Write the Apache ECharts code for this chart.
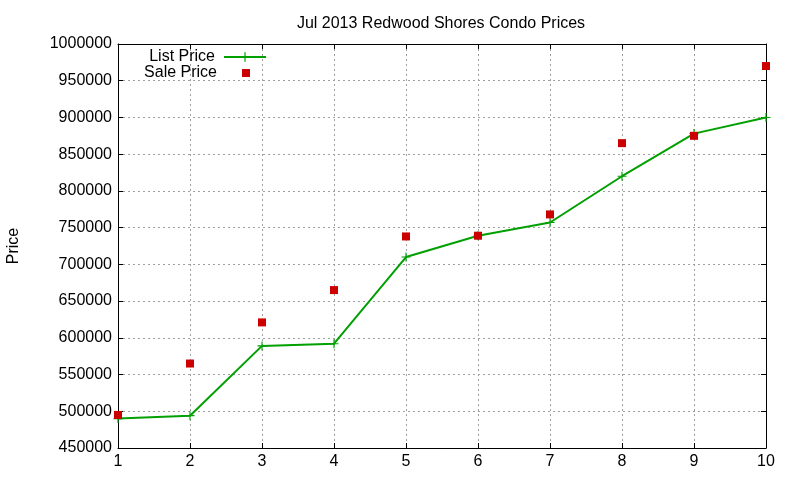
<!DOCTYPE html>
<html>
<head>
    <meta charset="utf-8">
    <title>Redwood Shores Condo Prices</title>
    <script src="https://cdn.jsdelivr.net/npm/echarts@6/dist/echarts.min.js"></script>
</head>
<body style="margin:0">
    <div id="main" style="width: 800px;height:480px;"></div>
    <script type="text/javascript">
        var months = [1, 2, 3, 4, 5, 6, 7, 8, 9, 10];
        var listPrice = [490000, 494000, 589000, 592000, 710000, 739000, 757000, 820000, 878000, 900000];
        var salePrice = [495000, 565000, 621000, 665000, 738000, 739000, 768000, 865000, 875000, 970000];

        var pair = function (xs, ys) {
            var res = [];
            for (var i = 0; i < xs.length; i++) {
                res.push([xs[i], ys[i]]);
            }
            return res;
        };

        var myChart = echarts.init(document.getElementById('main'));
        var font = 'Liberation Sans';
        var plus = 'path://M-1,-8 H1 V-1 H8 V1 H1 V8 H-1 V1 H-8 V-1 H-1 Z';
        var gridLine = { show: true, lineStyle: { color: '#a0a0a0', type: [2, 3], width: 1 } };
        var tick = { show: true, inside: true, length: 5, lineStyle: { color: '#000' } };
        var border = { show: true, onZero: false, lineStyle: { color: '#000', width: 1 } };

        var option = {
            backgroundColor: '#fff',
            animation: false,
            textStyle: { fontFamily: font },
            title: {
                text: 'Jul 2013 Redwood Shores Condo Prices',
                left: 436,
                textAlign: 'center',
                top: 11,
                textStyle: { fontFamily: font, fontSize: 16, fontWeight: 'normal', color: '#000' }
            },
            legend: [{
                data: ['List Price'],
                right: 528,
                top: 44,
                align: 'right',
                itemWidth: 42,
                itemHeight: 12,
                textStyle: { fontFamily: font, fontSize: 16, color: '#000', padding: [0, 4, 0, 0] }
            }, {
                data: ['Sale Price'],
                right: 545,
                top: 60,
                align: 'right',
                itemWidth: 8,
                itemHeight: 8,
                textStyle: { fontFamily: font, fontSize: 16, color: '#000', padding: [0, 20, 0, 0] }
            }],
            grid: { left: 118, right: 34, top: 44, bottom: 32, outerBoundsMode: 'none', containLabel: false },
            xAxis: [{
                type: 'value',
                min: 1,
                max: 10,
                interval: 1,
                axisLine: border,
                axisTick: tick,
                splitLine: gridLine,
                axisLabel: { fontFamily: font, fontSize: 16, color: '#000', margin: 6 }
            }, {
                type: 'value',
                position: 'top',
                min: 1,
                max: 10,
                interval: 1,
                axisLine: border,
                axisTick: tick,
                splitLine: { show: false },
                axisLabel: { show: false }
            }],
            yAxis: [{
                type: 'value',
                name: 'Price',
                nameLocation: 'middle',
                nameGap: 96,
                nameTextStyle: { fontFamily: font, fontSize: 16, color: '#000' },
                min: 450000,
                max: 1000000,
                interval: 50000,
                axisLine: border,
                axisTick: tick,
                splitLine: gridLine,
                axisLabel: {
                    fontFamily: font, fontSize: 16, color: '#000', margin: 6,
                    formatter: function (v) { return String(v); }
                }
            }, {
                type: 'value',
                position: 'right',
                min: 450000,
                max: 1000000,
                interval: 50000,
                axisLine: border,
                axisTick: tick,
                splitLine: { show: false },
                axisLabel: { show: false }
            }],
            series: [{
                name: 'List Price',
                type: 'line',
                data: pair(months, listPrice),
                symbol: plus,
                symbolSize: 9,
                showAllSymbol: true,
                lineStyle: { color: '#00a000', width: 2 },
                itemStyle: { color: '#00a000' },
                z: 3
            }, {
                name: 'Sale Price',
                type: 'scatter',
                data: pair(months, salePrice),
                symbol: 'rect',
                symbolSize: 8,
                itemStyle: { color: '#cc0000', opacity: 1 },
                z: 4
            }]
        };

        myChart.setOption(option);
    </script>
</body>
</html>
